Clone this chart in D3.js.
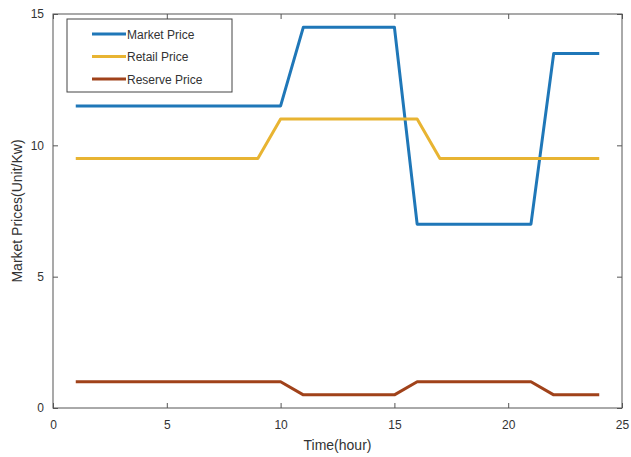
<!DOCTYPE html>
<html lang="en">
<head>
<meta charset="UTF-8">
<title>Market Prices</title>
<script src="https://d3js.org/d3.v7.min.js"></script>
<style>
  html, body { margin:0; padding:0; background:#fff; font-family:"Liberation Sans", Arial, sans-serif; }
  .axis text { font-size:12px; fill:#333; }
  .axis path, .axis line { stroke:#555; }
</style>
</head>
<body>
<div id="chart"></div>
<script>
const hours=[1,2,3,4,5,6,7,8,9,10,11,12,13,14,15,16,17,18,19,20,21,22,23,24];
const marketPrice=[11.5,11.5,11.5,11.5,11.5,11.5,11.5,11.5,11.5,11.5,14.5,14.5,14.5,14.5,14.5,7,7,7,7,7,7,13.5,13.5,13.5];
const retailPrice=[9.5,9.5,9.5,9.5,9.5,9.5,9.5,9.5,9.5,11,11,11,11,11,11,11,9.5,9.5,9.5,9.5,9.5,9.5,9.5,9.5];
const reservePrice=[1,1,1,1,1,1,1,1,1,1,0.5,0.5,0.5,0.5,0.5,1,1,1,1,1,1,0.5,0.5,0.5];
const xTicks=[0,5,10,15,20,25];
const yTicks=[0,5,10,15];
const series=[
  {name:"Market Price",values:marketPrice,color:"#1f77b8"},
  {name:"Retail Price",values:retailPrice,color:"#e8b432"},
  {name:"Reserve Price",values:reservePrice,color:"#a0421a"}
];

const width=631,height=457;
const margin={top:14,right:9,bottom:49,left:53};
const svg=d3.select("#chart").append("svg").attr("width",width).attr("height",height);

const x=d3.scaleLinear().domain([0,25]).range([margin.left,width-margin.right]);
const y=d3.scaleLinear().domain([0,15]).range([height-margin.bottom,margin.top]);

// box + inward ticks on all four sides
svg.append("rect").attr("x",x(0)).attr("y",y(15))
  .attr("width",x(25)-x(0)).attr("height",y(0)-y(15))
  .attr("fill","none").attr("stroke","#555");

svg.append("g").attr("class","axis")
  .attr("transform","translate(0,"+y(0)+")")
  .call(d3.axisBottom(x).tickValues(xTicks).tickSizeInner(-5).tickSizeOuter(0).tickPadding(12))
  .call(g=>g.select(".domain").remove());
svg.append("g").attr("class","axis")
  .attr("transform","translate(0,"+y(15)+")")
  .call(d3.axisTop(x).tickValues(xTicks).tickSizeInner(-5).tickSizeOuter(0).tickFormat(""))
  .call(g=>g.select(".domain").remove());
svg.append("g").attr("class","axis")
  .attr("transform","translate("+x(0)+",0)")
  .call(d3.axisLeft(y).tickValues(yTicks).tickSizeInner(-5).tickSizeOuter(0).tickPadding(9))
  .call(g=>g.select(".domain").remove());
svg.append("g").attr("class","axis")
  .attr("transform","translate("+x(25)+",0)")
  .call(d3.axisRight(y).tickValues(yTicks).tickSizeInner(-5).tickSizeOuter(0).tickFormat(""))
  .call(g=>g.select(".domain").remove());

const line=d3.line().x((d,i)=>x(hours[i])).y(d=>y(d));
series.forEach(s=>{
  svg.append("path").datum(s.values)
    .attr("fill","none").attr("stroke",s.color)
    .attr("stroke-width",3).attr("stroke-linejoin","round")
    .attr("d",line);
});

// axis labels
svg.append("text").attr("x",(x(0)+x(25))/2).attr("y",450)
  .attr("text-anchor","middle").attr("font-size",14).attr("fill","#333")
  .text("Time(hour)");
svg.append("text").attr("transform","translate(22,"+((y(0)+y(15))/2)+") rotate(-90)")
  .attr("text-anchor","middle").attr("font-size",14).attr("fill","#333")
  .text("Market Prices(Unit/Kw)");

// legend
const lg=svg.append("g").attr("transform","translate(67,19)");
lg.append("rect").attr("width",165).attr("height",73)
  .attr("fill","#fff").attr("stroke","#444");
series.forEach((s,i)=>{
  const cy=15+i*22.5;
  lg.append("line").attr("x1",25).attr("x2",59).attr("y1",cy).attr("y2",cy)
    .attr("stroke",s.color).attr("stroke-width",3);
  lg.append("text").attr("x",60).attr("y",cy+4.5)
    .attr("font-size",12).attr("fill","#333").text(s.name);
});
</script>
</body>
</html>
